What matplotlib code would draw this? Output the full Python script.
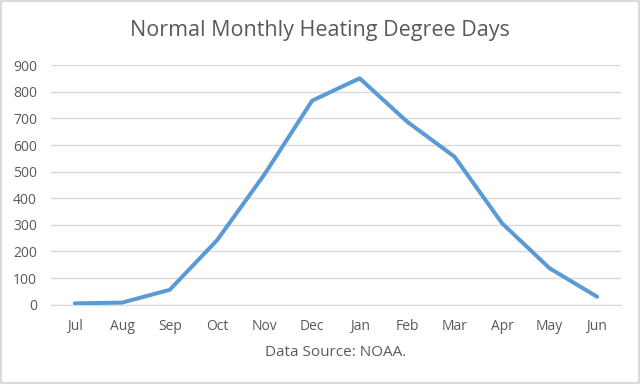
import matplotlib
matplotlib.use("Agg")
import matplotlib.pyplot as plt
from matplotlib.patches import Rectangle

months = ["Jul", "Aug", "Sep", "Oct", "Nov", "Dec", "Jan", "Feb", "Mar", "Apr", "May", "Jun"]
hdd = [5, 8, 56, 243, 491, 767, 851, 688, 556, 306, 137, 30]
yticks = [0, 100, 200, 300, 400, 500, 600, 700, 800, 900]

plt.rcParams['font.family'] = ['Open Sans', 'DejaVu Sans']

fig = plt.figure(figsize=(6.4, 3.84), dpi=100)
fig.patch.set_facecolor("white")
fig.patches.append(Rectangle((0.0015, 0.002), 0.997, 0.995, transform=fig.transFigure,
                             fill=False, edgecolor="#d9d9d9", linewidth=1.5))

ax = fig.add_axes([0.0797, 0.2065, 0.8903, 0.6235])
x = list(range(len(months)))
ax.plot(x, hdd, color="#5B9BD5", linewidth=2.9, solid_joinstyle="round", solid_capstyle="round", zorder=3)

ax.set_xlim(-0.5, len(months) - 0.5)
ax.set_ylim(0, 900)
ax.set_yticks(yticks)
ax.set_yticklabels([str(v) for v in yticks])
ax.set_xticks(x)
ax.set_xticklabels(months)
ax.grid(axis="y", color="#d9d9d9", linewidth=1)
ax.set_axisbelow(True)
for s in ["top", "right", "left"]:
    ax.spines[s].set_visible(False)
ax.spines["bottom"].set_color("#d9d9d9")
ax.tick_params(axis="both", length=0, colors="#595959", labelsize=10)
ax.tick_params(axis="x", pad=10)
ax.tick_params(axis="y", pad=10)

fig.text(0.5, 0.92, "Normal Monthly Heating Degree Days", ha="center", va="center",
         fontsize=15.5, color="#595959")
fig.text(0.525, 0.083, "Data Source: NOAA.", ha="center", va="center", fontsize=11, color="#595959")

fig.savefig("out.png", dpi=100)
